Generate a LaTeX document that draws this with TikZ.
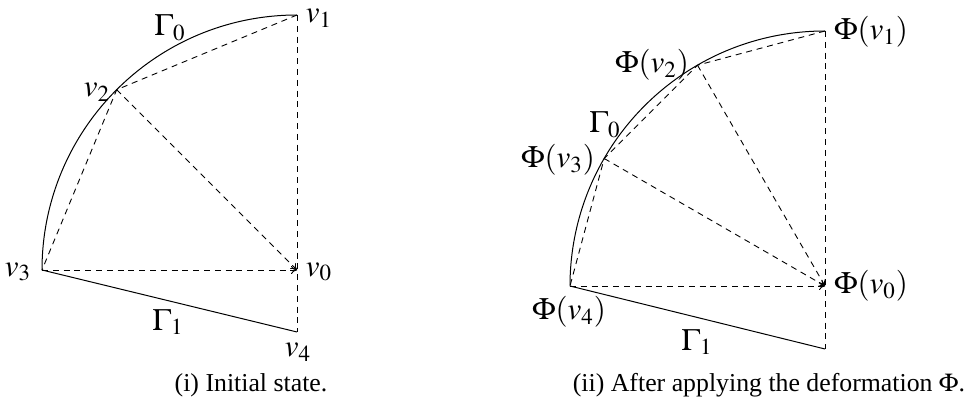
\documentclass[tikz,border=0pt]{standalone}
\usepackage{mathptmx}
\usepackage[no-math]{fontspec}
\setmainfont{Liberation Serif}
\usetikzlibrary{arrows.meta}
\begin{document}
\begin{tikzpicture}[x=0.5pt,y=0.5pt,
  edge/.style={line width=0.5pt},
  dline/.style={line width=0.45pt,dash pattern=on 3pt off 2.4pt},
  darr/.style={dline,-{To[length=3pt,width=4pt]}},
  lbl/.style={inner sep=0pt,font=\fontsize{15.5}{18}\selectfont},
  captext/.style={inner sep=0pt,font=\fontsize{12.9}{15}\selectfont}]
\useasboundingbox (0,0) rectangle (974,419);
% ---------- left figure ----------
\coordinate (a0) at (297,149);
\coordinate (a1) at (297,404);
\coordinate (a2) at (116.7,329.3);
\coordinate (a3) at (42,149);
\coordinate (a4) at (297,87);
\draw[edge] (a3) arc[start angle=180,end angle=90,radius=255];
\draw[edge] (a3) -- (a4);
\draw[dline] (a1) -- (a2) -- (a3);
\draw[dline] (a1) -- (a4);
\draw[darr] (a2) -- (a0);
\draw[darr] (a3) -- (a0);
\node[lbl] (lg0) at (170,391) {$\Gamma_0$};
\node[lbl] (lv1) at (319,401) {$v_1$};
\node[lbl] (lv2) at (97,327) {$v_2$};
\node[lbl] (lv3) at (18,147) {$v_3$};
\node[lbl] (lv0) at (319,147) {$v_0$};
\node[lbl] (lv4) at (298,67) {$v_4$};
\node[lbl] (lg1) at (168,97) {$\Gamma_1$};
\node[captext] (capa) at (251,34) {(i) Initial state.};
% ---------- right figure ----------
\coordinate (b0) at (825,133);
\coordinate (b1) at (825,388);
\coordinate (b2) at (697.5,353.8);
\coordinate (b3) at (604.2,260.5);
\coordinate (b4) at (570,133);
\coordinate (b5) at (825,70);
\draw[edge] (b4) arc[start angle=180,end angle=90,radius=255];
\draw[edge] (b4) -- (b5);
\draw[dline] (b1) -- (b2) -- (b3) -- (b4);
\draw[dline] (b1) -- (b5);
\draw[darr] (b2) -- (b0);
\draw[darr] (b3) -- (b0);
\draw[darr] (b4) -- (b0);
\node[lbl] (rv1) at (871,387) {$\Phi(v_1)$};
\node[lbl] (rv2) at (652,354) {$\Phi(v_2)$};
\node[lbl] (rg0) at (605,294) {$\Gamma_0$};
\node[lbl] (rv3) at (558,259) {$\Phi(v_3)$};
\node[lbl] (rv0) at (871,133) {$\Phi(v_0)$};
\node[lbl] (rv4) at (569,107) {$\Phi(v_4)$};
\node[lbl] (rg1) at (697,77) {$\Gamma_1$};
\node[captext] (capb) at (769,34) {(ii) After applying the deformation $\Phi$.};
\end{tikzpicture}
\end{document}
